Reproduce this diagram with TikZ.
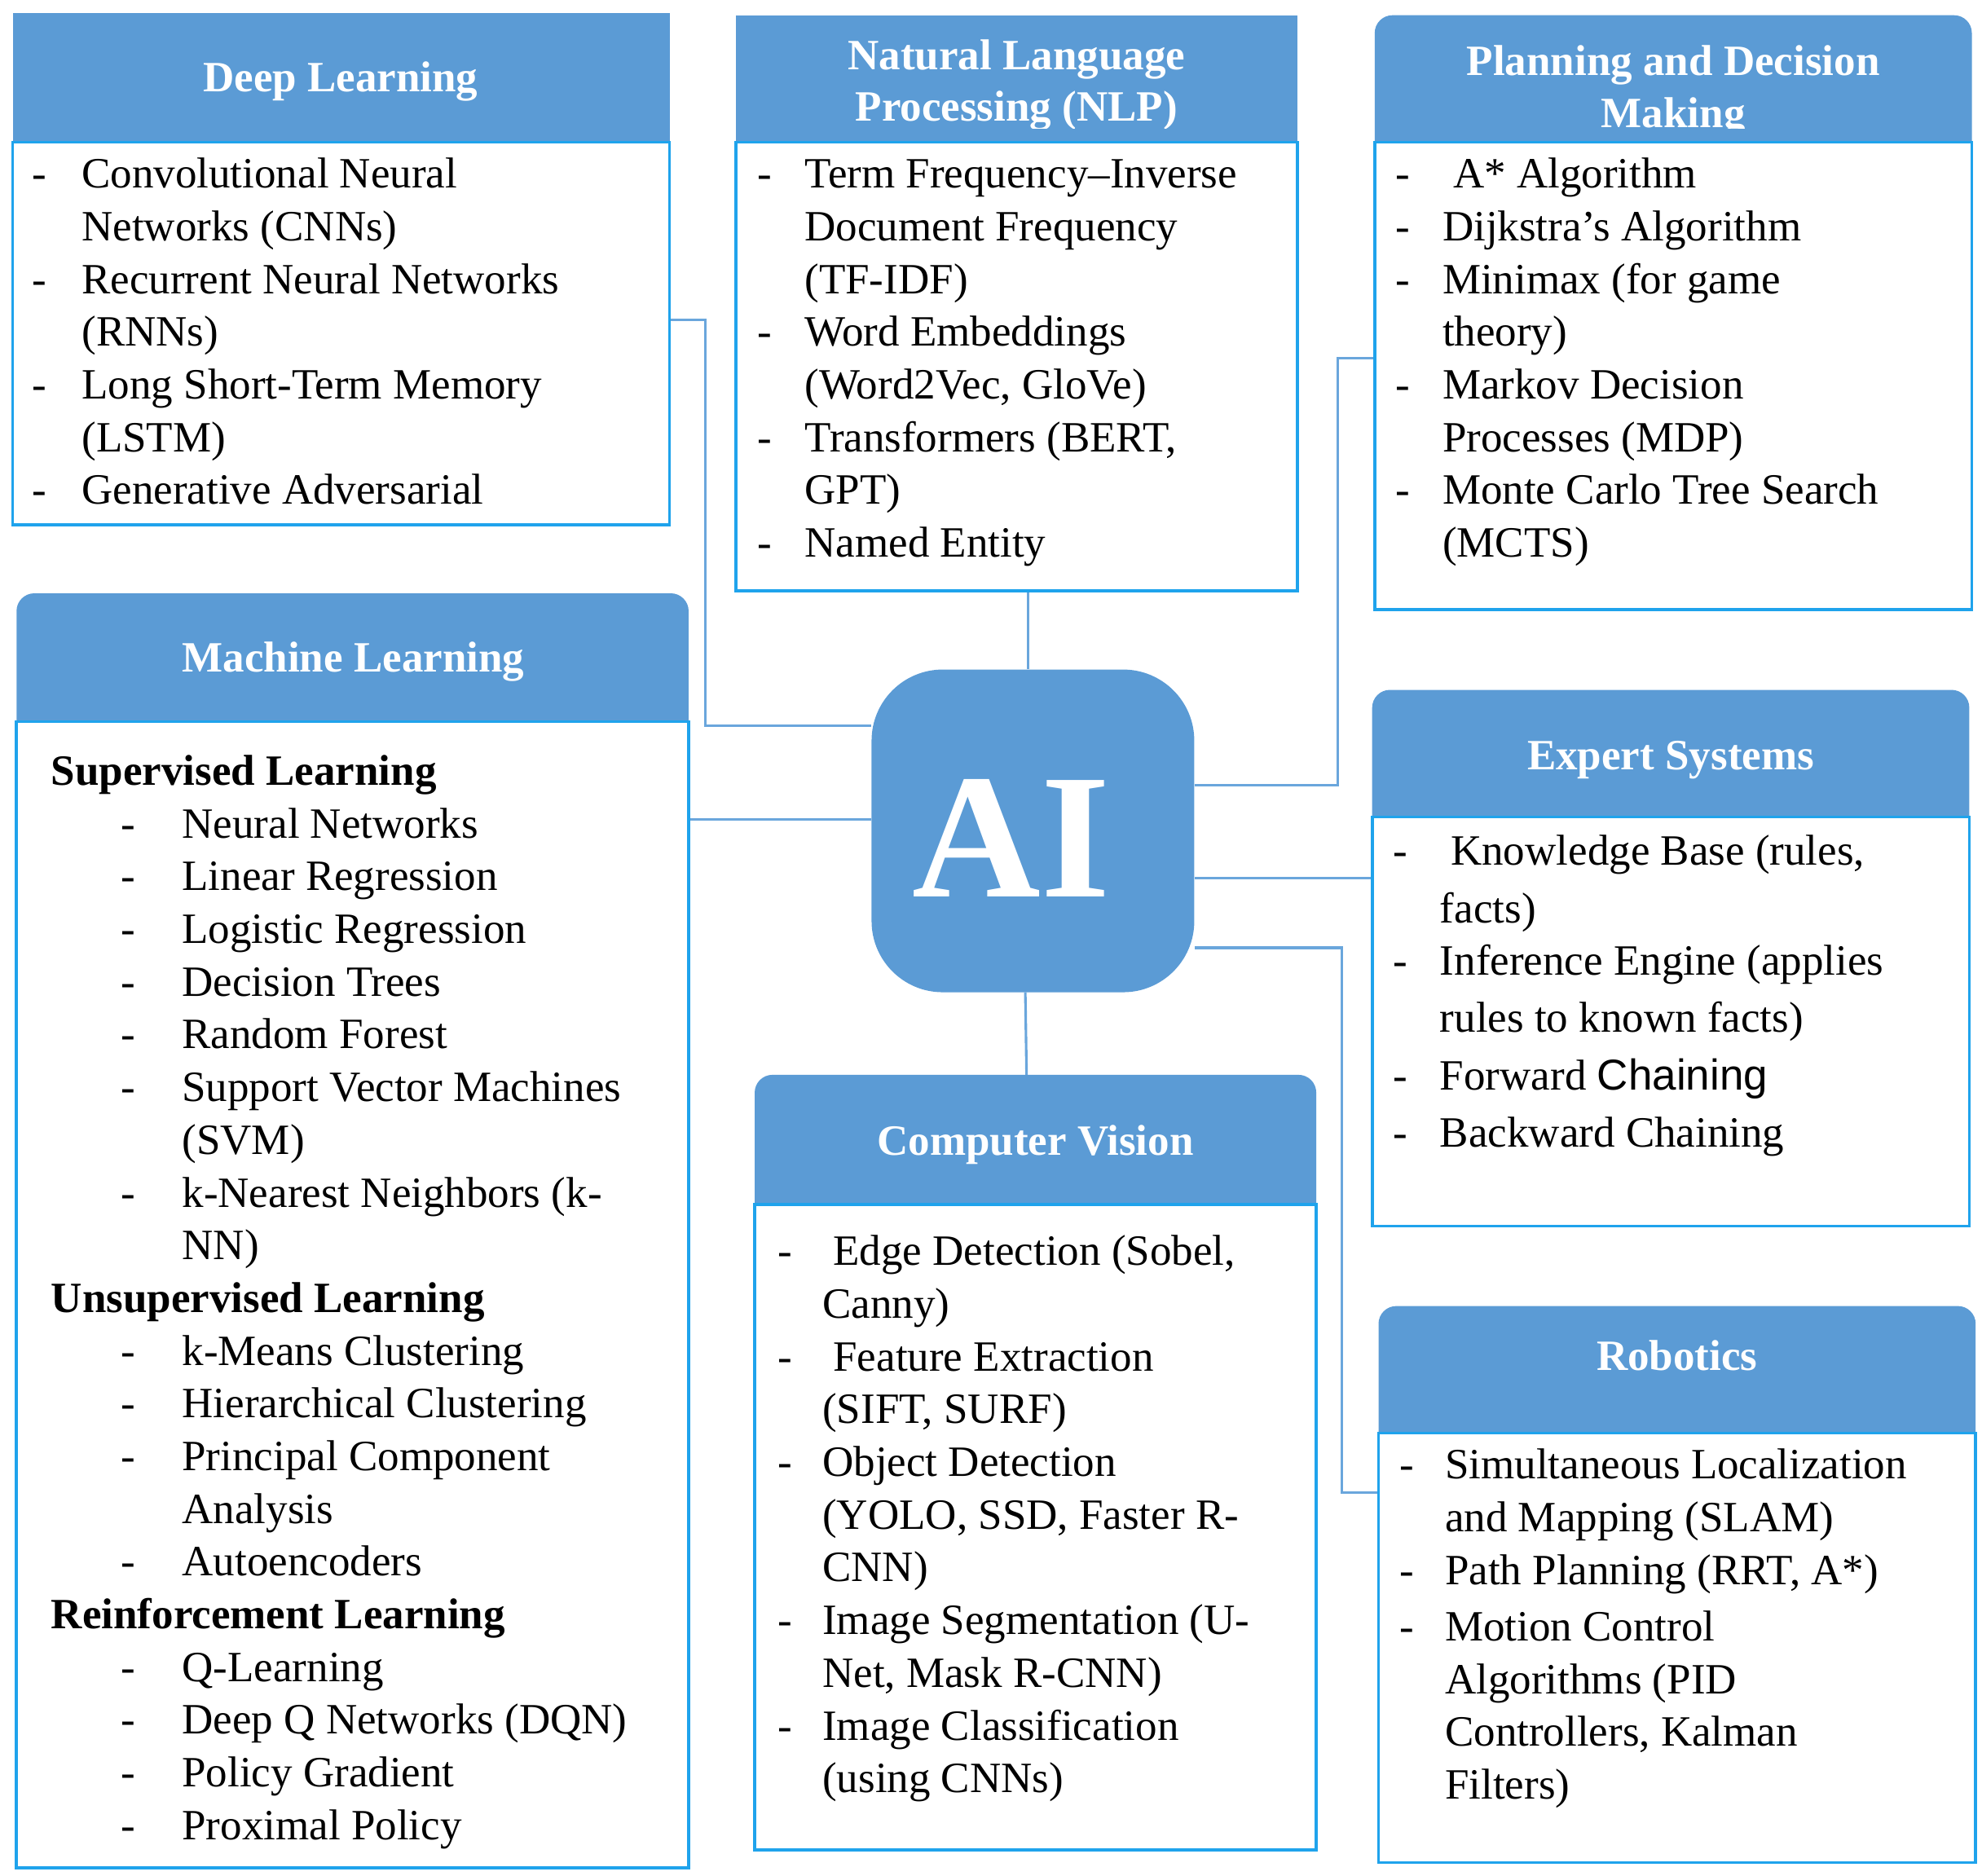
\documentclass[tikz,border=0pt]{standalone}
\usepackage{fontspec}
\setmainfont{Liberation Serif}
\setsansfont{Liberation Sans}
\definecolor{hdr}{HTML}{5B9BD5}
\definecolor{brd}{HTML}{1FA3EC}
\definecolor{lnk}{HTML}{6AA6DC}
\newcommand\bodyfont{\fontsize{17}{20.75}\selectfont}
\newcommand\hfont{\fontsize{17}{20.5}\selectfont\bfseries\color{white}}
\newcommand\hdrbox[4]{\fill[hdr] (#1,#4) [rounded corners=7pt]-- (#1,#2) -- (#3,#2) [sharp corners]-- (#3,#4) -- cycle;}
\begin{document}
\begin{tikzpicture}[x=0.5pt,y=-0.5pt,
  body/.style={draw=brd,line width=1.2pt},
  lk/.style={draw=lnk,line width=1pt},
  txt/.style={anchor=base west,inner sep=0pt,font=\bodyfont},
  ht/.style={inner sep=0pt,font=\hfont,align=center}]
\useasboundingbox (0,0) rectangle (1560,1476);
% connectors
\coordinate (dlc) at (527,252);
\coordinate (nlc) at (809,465);
\coordinate (plc) at (1082,282);
\coordinate (mlc) at (542,645);
\coordinate (exc) at (1080,691);
\coordinate (cvc) at (808,846);
\coordinate (rbc) at (1085,1175);
\node[fill=hdr,rounded corners=28pt,minimum width=127pt,minimum height=127pt,inner sep=0pt] (ai) at (813,654) {};
\node[font=\fontsize{70}{70}\selectfont\bfseries,text=white] (ait) at (796,660) {AI};
\draw[lk] (dlc) -- (555,252) -- (555,571) -- (ai.west|-0,571);
\draw[lk] (nlc) -- (ai.north-|nlc);
\draw[lk] (ai.east|-0,618) -- (1053,618) -- (1053,282) -- (plc);
\draw[lk] (mlc) -- (ai.west|-mlc);
\draw[lk] (ai.east|-exc) -- (exc);
\draw[lk] (807,781) -- (cvc);
\draw[lk] (ai.east|-0,746) -- (1056,746) -- (1056,1175) -- (rbc);
% Deep Learning
\fill[hdr] (10,10) rectangle (527,112);
\draw[body] (10,112) rectangle (527,413);
\node[ht] (dlh) at (268,64) {Deep Learning};
\node[txt] (dlt) at (25,148) {\begin{tabular}[t]{@{}p{19.5pt}@{}l@{}}
- & Convolutional Neural\\ & Networks (CNNs)\\
- & Recurrent Neural Networks\\ & (RNNs)\\
- & Long Short-Term Memory\\ & (LSTM)\\
- & Generative Adversarial\end{tabular}};
% NLP
\fill[hdr] (579,12) rectangle (1021,112);
\draw[body] (579,112) rectangle (1021,465);
\begin{scope}\clip (579,12) rectangle (1021,101);
\node[ht] (nlh) at (800,67) {Natural Language\\Processing (NLP)};
\end{scope}
\node[txt] (nlt) at (596,148) {\begin{tabular}[t]{@{}p{18.5pt}@{}l@{}}
- & Term Frequency--Inverse\\ & Document Frequency\\ & (TF-IDF)\\
- & Word Embeddings\\ & (Word2Vec, GloVe)\\
- & Transformers (BERT,\\ & GPT)\\
- & Named Entity\end{tabular}};
% Planning
\hdrbox{1082}{12}{1552}{112}
\draw[body] (1082,112) rectangle (1552,480);
\begin{scope}\clip (1082,12) rectangle (1552,101);
\node[ht] (plh) at (1317,72) {Planning and Decision\\Making};
\end{scope}
\node[txt] (plt) at (1098,148) {\begin{tabular}[t]{@{}p{18.5pt}@{}l@{}}
- & \ A* Algorithm\\
- & Dijkstra's Algorithm\\
- & Minimax (for game\\ & theory)\\
- & Markov Decision\\ & Processes (MDP)\\
- & Monte Carlo Tree Search\\ & (MCTS)\end{tabular}};
% Machine Learning
\hdrbox{13}{467}{542}{568}
\draw[body] (13,568) rectangle (542,1470);
\node[ht] (mlh) at (278,521) {Machine Learning};
\node[txt] (mlt) at (40,618) {\begin{tabular}[t]{@{}p{27.5pt}@{}p{24pt}@{}l@{}}
\multicolumn{3}{@{}l@{}}{\bfseries Supervised Learning}\\
& - & Neural Networks\\
& - & Linear Regression\\
& - & Logistic Regression\\
& - & Decision Trees\\
& - & Random Forest\\
& - & Support Vector Machines\\ & & (SVM)\\
& - & k-Nearest Neighbors (k-\\ & & NN)\\
\multicolumn{3}{@{}l@{}}{\bfseries Unsupervised Learning}\\
& - & k-Means Clustering\\
& - & Hierarchical Clustering\\
& - & Principal Component\\ & & Analysis\\
& - & Autoencoders\\
\multicolumn{3}{@{}l@{}}{\bfseries Reinforcement Learning}\\
& - & Q-Learning\\
& - & Deep Q Networks (DQN)\\
& - & Policy Gradient\\
& - & Proximal Policy\end{tabular}};
% Expert Systems
\hdrbox{1080}{543}{1550}{643}
\draw[body] (1080,643) rectangle (1550,965);
\node[ht] (exh) at (1315,598) {Expert Systems};
\node[txt] (ext) at (1096,681) {\fontsize{17}{22.6}\selectfont\begin{tabular}[t]{@{}p{18.5pt}@{}l@{}}
- & \ Knowledge Base (rules,\\ & facts)\\[-2pt]
- & Inference Engine (applies\\ & rules to known facts)\\
- & Forward {\sffamily Chaining}\\
- & Backward Chaining\end{tabular}};
% Computer Vision
\hdrbox{594}{846}{1036}{948}
\draw[body] (594,948) rectangle (1036,1456);
\node[ht] (cvh) at (815,901) {Computer Vision};
\node[txt] (cvt) at (612,996) {\begin{tabular}[t]{@{}p{17.5pt}@{}l@{}}
- & \ Edge Detection (Sobel,\\ & Canny)\\
- & \ Feature Extraction\\ & (SIFT, SURF)\\
- & Object Detection\\ & (YOLO, SSD, Faster R-\\ & CNN)\\
- & Image Segmentation (U-\\ & Net, Mask R-CNN)\\
- & Image Classification\\ & (using CNNs)\end{tabular}};
% Robotics
\hdrbox{1085}{1028}{1555}{1128}
\draw[body] (1085,1128) rectangle (1555,1466);
\node[ht] (rbh) at (1320,1067) {Robotics};
\node[txt] (rbt) at (1101,1164) {\begin{tabular}[t]{@{}p{18pt}@{}l@{}}
- & Simultaneous Localization\\ & and Mapping (SLAM)\\
- & Path Planning (RRT, A*)\\[1.5pt]
- & Motion Control\\ & Algorithms (PID\\ & Controllers, Kalman\\ & Filters)\end{tabular}};
\end{tikzpicture}
\end{document}
